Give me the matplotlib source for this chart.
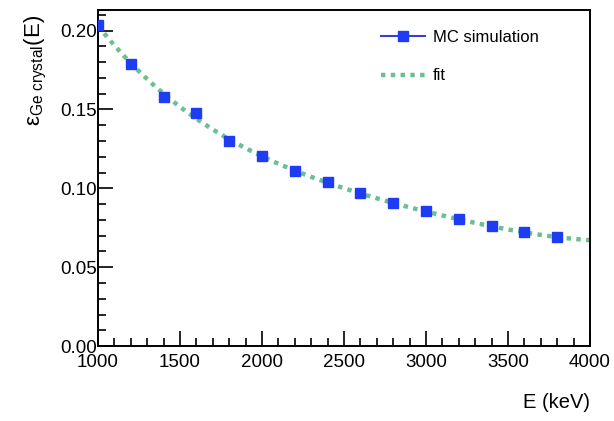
import numpy as np
import matplotlib
matplotlib.use('Agg')
import matplotlib.pyplot as plt
from matplotlib.ticker import MultipleLocator

plt.rcParams['font.family'] = ['Liberation Sans', 'DejaVu Sans']
plt.rcParams['mathtext.fontset'] = 'custom'
plt.rcParams['mathtext.rm'] = 'Liberation Sans'
plt.rcParams['mathtext.it'] = 'Liberation Sans:italic'

# MC simulation points
energy_kev = [1000, 1200, 1400, 1600, 1800, 2000, 2200, 2400,
              2600, 2800, 3000, 3200, 3400, 3600, 3800]
efficiency = [0.2035, 0.179, 0.158, 0.1475, 0.130, 0.1203, 0.1108, 0.1038,
              0.0968, 0.0905, 0.0854, 0.0804, 0.0759, 0.0722, 0.069]

x_range = [1000, 4000]
y_range = [0.0, 0.213]
x_ticks = [1000, 1500, 2000, 2500, 3000, 3500, 4000]
y_ticks = [0.00, 0.05, 0.10, 0.15, 0.20]

mc_color = '#1f3cf5'
fit_color = '#6cbf92'

fig = plt.figure(figsize=(6.14, 4.21), dpi=100)
ax = fig.add_axes([0.1596, 0.178, 0.8014, 0.798])

# polynomial fit of the MC points
coef = np.polyfit(energy_kev, efficiency, 4)
e_fit = np.linspace(x_range[0], x_range[1], 300)
ax.plot(e_fit, np.polyval(coef, e_fit), color=fit_color, linestyle=(0, (1, 1.2)),
        linewidth=3.2, zorder=2)

ax.plot(energy_kev, efficiency, linestyle='none', marker='s', markersize=7,
        color=mc_color, zorder=3)

# legend handles
mc_handle, = ax.plot([], [], color='#3344cc', marker='s', markersize=7,
                     markerfacecolor=mc_color, markeredgecolor=mc_color, linewidth=1.5)
fit_handle, = ax.plot([], [], color=fit_color, linestyle=(0, (1, 1.2)), linewidth=3.2)
ax.legend([mc_handle, fit_handle], ['MC simulation', 'fit'], loc='upper left',
          bbox_to_anchor=(0.545, 0.985), frameon=False, fontsize=12,
          handlelength=2.6, handletextpad=0.5, labelspacing=1.4)

ax.set_xlim(x_range)
ax.set_ylim(y_range)
ax.set_xticks(x_ticks)
ax.set_yticks(y_ticks)
ax.set_yticklabels(['%.2f' % v for v in y_ticks])
ax.xaxis.set_minor_locator(MultipleLocator(100))
ax.yaxis.set_minor_locator(MultipleLocator(0.01))
ax.tick_params(which='both', direction='in', top=False, right=False, labelsize=13.5, width=1.2)
ax.tick_params(which='major', length=11)
ax.tick_params(which='minor', length=5.5)
ax.tick_params(axis='x', pad=6)
ax.tick_params(axis='y', pad=1)
for s in ax.spines.values():
    s.set_linewidth(1.4)

fig.text(0.961, 0.022, 'E (keV)', ha='right', va='bottom', fontsize=14.5)
fig.text(0.058, 0.965, r'$\mathregular{\epsilon_{Ge\ crystal}}$(E)', rotation=90,
         ha='center', va='top', fontsize=16)

fig.savefig('out.png', dpi=100)
